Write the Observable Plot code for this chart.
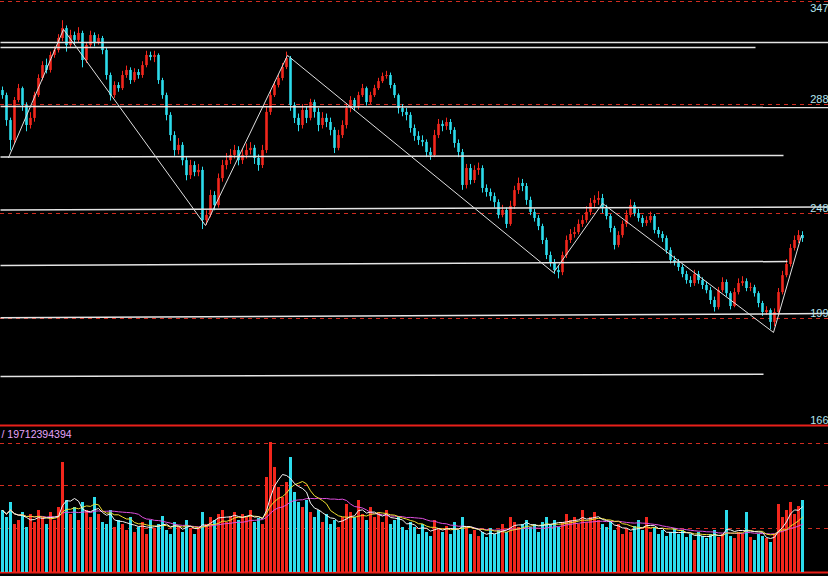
<!DOCTYPE html>
<html>
<head>
<meta charset="utf-8">
<script src="https://cdn.jsdelivr.net/npm/d3@7"></script>
<script src="https://cdn.jsdelivr.net/npm/@observablehq/plot@0.6"></script>
<style>
html,body{margin:0;padding:0;background:#000;overflow:hidden;}
#chart svg{display:block;}
</style>
</head>
<body>
<div id="chart"></div>
<script>
// ---- price axis levels (right-hand labels) ----
const levelValues = [166, 199, 248, 288, 347];
const levelLabels = ["166", "199", "248", "288", "347"];
const dashLevels = [199, 248, 288, 347];

// ---- candles (one per session) ----
const open = [296, 293.1, 282.1, 274.8, 290.3, 297.1, 287.6, 280.3, 282.9, 293.1,
302.9, 310.3, 307.5, 316.1, 318.9, 325.8, 331.5, 321.8, 327.5, 324.7,
328.7, 313.2, 321.8, 327.5, 323.5, 325.8, 318.9, 304.6, 293.1, 298.9,
297.1, 304.6, 307.5, 301.7, 306.3, 304.6, 310.3, 316.1, 314.9, 316.1,
301.7, 293.1, 284.0, 276.6, 271.1, 273.0, 267.4, 261.9, 265.6, 263.0,
263.8, 244.7, 247.1, 254.6, 250.9, 260.8, 265.6, 267.4, 269.3, 271.1,
267.4, 269.3, 271.1, 271.9, 268.2, 265.6, 271.1, 285.1, 293.1, 298.9,
302.9, 309.2, 314.3, 287.6, 282.9, 280.3, 285.8, 282.9, 289.1, 285.1,
280.3, 282.9, 281.4, 278.5, 271.9, 276.6, 280.3, 286.5, 290.3, 287.3,
293.1, 297.1, 289.1, 293.1, 297.1, 301.1, 304.0, 304.6, 298.9, 293.1,
286.5, 285.1, 284.0, 279.2, 276.3, 274.8, 274.1, 270.4, 269.3, 276.6,
280.7, 279.9, 281.4, 278.5, 273.7, 270.4, 258.3, 264.5, 260.1, 263.8,
264.5, 257.2, 255.7, 254.2, 252.0, 247.1, 249.1, 242.9, 250.6, 256.4,
259.0, 257.9, 252.8, 248.4, 245.7, 241.9, 235.4, 228.4, 225.1, 221.4,
220.4, 228.4, 235.4, 238.2, 239.1, 242.9, 244.7, 248.4, 251.7, 252.8,
253.5, 249.8, 246.6, 241.0, 233.1, 237.7, 242.9, 247.1, 250.9, 248.0,
245.7, 243.3, 244.7, 246.6, 240.1, 238.2, 236.3, 230.7, 226.1, 225.1,
222.8, 219.5, 216.7, 215.3, 219.5, 216.7, 214.4, 212.0, 207.4, 204.1,
212.0, 215.8, 210.6, 204.6, 211.1, 215.3, 216.2, 213.0, 213.4, 210.6,
206.0, 201.8, 202.7, 197.8, 201.8, 211.1, 219.0, 224.2, 231.7, 235.4,
237.7];
const high = [298, 294.5, 283, 292, 299.5, 298, 289, 285, 295, 305,
312.5, 314, 318, 321, 328, 336, 333, 330.5, 329.5, 332,
330, 323.5, 330, 329, 328, 327, 320, 306, 301, 300.5,
307, 310, 309, 308.5, 308, 312.5, 318.5, 318, 318.5, 317,
303, 294.5, 285, 278, 275.5, 274, 268.5, 267.5, 267, 266,
265, 249, 256.5, 256, 262.5, 267.5, 270, 271.5, 273, 272.5,
271.5, 273.5, 274, 273, 269.5, 273, 287, 295.5, 301, 305,
311.5, 318, 315.5, 289, 284.5, 288, 287, 291, 290.5, 286.5,
285, 284.5, 283, 279.5, 278.5, 282, 288.5, 292.5, 291.5, 295,
299.5, 298, 295, 299, 303, 306, 307, 306, 300, 294,
288, 286.5, 285, 280.5, 278, 276.5, 275, 272, 278.5, 282.5,
282, 283, 282.5, 279.5, 275, 271.5, 266, 266, 265.5, 266.5,
265.5, 258.5, 257, 255.5, 253, 251, 250, 252.5, 258, 261,
260.5, 259, 254, 249.5, 247, 243, 236.5, 230, 226.5, 223.5,
230, 237.5, 240.5, 241.5, 245, 247, 250.5, 253.5, 254.5, 256,
255, 251, 247.5, 242, 239.5, 244.5, 249, 253, 252, 249.5,
247, 246.5, 248.5, 247.5, 241.5, 239.5, 237.5, 232, 228, 226.5,
224, 221, 218.5, 221.5, 221, 218, 216, 213.5, 209, 213.5,
218, 217, 211.5, 213, 217.5, 218.5, 217.5, 215.5, 214.5, 211.5,
207, 204.5, 203.5, 203.5, 213, 221, 226.5, 233.5, 237.5, 240,
239.5];
const low = [291, 280, 271, 273.5, 289, 285.5, 278, 279, 281.5, 292,
301.5, 305.5, 306, 314.5, 317.5, 324, 318, 320, 322, 323,
309, 311.5, 320, 321, 322, 316.5, 302, 290, 291.5, 295,
296, 303, 299.5, 300.5, 302.5, 303, 309, 313, 312, 299.5,
291, 282, 274.5, 269, 269.5, 265.5, 260, 260.5, 261.5, 261.5,
240.5, 242.5, 246, 249, 250, 259.5, 264, 266, 268, 265.5,
266, 268, 269.5, 266, 263.5, 264.5, 270, 284, 292, 297.5,
301.5, 308, 285.5, 281, 278, 279, 281, 282, 283, 278,
279, 279.5, 276.5, 270, 271, 275.5, 279, 285, 285.5, 286,
292, 287.5, 288, 292, 296, 300, 302.5, 297, 291.5, 284.5,
283.5, 282, 277.5, 274.5, 273, 272.5, 268.5, 267.5, 268.5, 275.5,
278, 278.5, 277, 272, 268.5, 256.5, 257, 258.5, 259, 262,
255.5, 254, 252.5, 250, 245.5, 246, 241, 242, 249.5, 255,
256, 251, 247, 244, 240, 233.5, 226.5, 223, 219.5, 217.5,
219, 227, 234, 236.5, 238, 241.5, 243.5, 247, 250, 251,
248, 245, 239, 231, 232, 236.5, 241.5, 246, 246.5, 244,
241.5, 242, 243.5, 238.5, 236.5, 234.5, 229, 224.5, 223.5, 221,
218, 215, 213.5, 214, 215, 212.5, 210.5, 205.5, 202, 203,
211, 209, 203, 204, 210, 214, 211.5, 211.5, 209, 204,
200, 200.5, 195.5, 196.5, 200.5, 210, 218, 223, 230.5, 234,
234.5];
const close = [293.1, 282.1, 274.8, 290.3, 297.1, 287.6, 280.3, 282.9, 293.1, 302.9,
310.3, 307.5, 316.1, 318.9, 325.8, 331.5, 321.8, 327.5, 324.7, 328.7,
313.2, 321.8, 327.5, 323.5, 325.8, 318.9, 304.6, 293.1, 298.9, 297.1,
304.6, 307.5, 301.7, 306.3, 304.6, 310.3, 316.1, 314.9, 316.1, 301.7,
293.1, 284.0, 276.6, 271.1, 273.0, 267.4, 261.9, 265.6, 263.0, 263.8,
244.7, 247.1, 254.6, 250.9, 260.8, 265.6, 267.4, 269.3, 271.1, 267.4,
269.3, 271.1, 271.9, 268.2, 265.6, 271.1, 285.1, 293.1, 298.9, 302.9,
309.2, 314.3, 287.6, 282.9, 280.3, 285.8, 282.9, 289.1, 285.1, 280.3,
282.9, 281.4, 278.5, 271.9, 276.6, 280.3, 286.5, 290.3, 287.3, 293.1,
297.1, 289.1, 293.1, 297.1, 301.1, 304.0, 304.6, 298.9, 293.1, 286.5,
285.1, 284.0, 279.2, 276.3, 274.8, 274.1, 270.4, 269.3, 276.6, 280.7,
279.9, 281.4, 278.5, 273.7, 270.4, 258.3, 264.5, 260.1, 263.8, 264.5,
257.2, 255.7, 254.2, 252.0, 247.1, 249.1, 242.9, 250.6, 256.4, 259.0,
257.9, 252.8, 248.4, 245.7, 241.9, 235.4, 228.4, 225.1, 221.4, 220.4,
228.4, 235.4, 238.2, 239.1, 242.9, 244.7, 248.4, 251.7, 252.8, 253.5,
249.8, 246.6, 241.0, 233.1, 237.7, 242.9, 247.1, 250.9, 248.0, 245.7,
243.3, 244.7, 246.6, 240.1, 238.2, 236.3, 230.7, 226.1, 225.1, 222.8,
219.5, 216.7, 215.3, 219.5, 216.7, 214.4, 212.0, 207.4, 204.1, 212.0,
215.8, 210.6, 204.6, 211.1, 215.3, 216.2, 213.0, 213.4, 210.6, 206.0,
201.8, 202.7, 197.8, 201.8, 211.1, 219.0, 224.2, 231.7, 235.4, 237.7,
236.3];
const volume = [62, 55, 70, 48, 52, 60, 45, 58, 50, 62, 55, 48, 60, 52, 65,
110, 72, 58, 65, 52,
70, 62, 55, 75, 58, 50, 48, 62, 45, 52,
48, 42, 55, 40, 45, 50, 38, 52, 44, 48, 56, 42, 38, 50, 46, 40, 52, 44, 38, 45,
60, 48, 55, 52, 58, 62, 50, 56, 60, 52, 58, 55, 62, 50, 54, 48,
95, 130, 105, 85, 75, 90, 115,
80, 70, 65, 72, 60, 55, 62, 50, 58, 48, 52, 45, 55,
68, 60, 55, 72, 58, 52, 65, 55, 60, 50, 62, 48, 52, 56, 45,
42, 50, 45, 38, 48, 40, 36, 52, 44, 40, 46, 38, 50, 42, 55,
45, 38, 42, 36, 40, 35, 44, 38, 42, 48, 40, 55, 50, 45, 48,
52, 45, 48, 40, 50, 55, 48, 52, 45, 50, 58, 52, 55, 48, 62, 50, 55, 60, 52, 48,
45, 50, 42, 48, 38, 44, 40, 46, 52, 42, 55, 40, 45, 38, 42, 36, 40, 44, 38, 42,
35, 38, 32, 40, 36, 34, 38, 42, 35, 38, 62, 36, 34, 40, 38, 60, 35, 32, 38, 36,
34, 30, 38, 68, 55, 62, 70, 58, 66, 72];
const volDashLevels = [44, 87, 129];
const volumeText = "/ 19712394394";

// ---- drawn lines (session index, price) ----
const hlineStart = [-0.5, -0.5, -0.5, -0.5, -0.5, -0.5, -0.5, -0.5];
const hlineEnd   = [206.5, 188.25, 206.5, 195.25, 206.5, 196.25, 206.5, 190.25];
const hlineFrom  = [323.5, 320.6, 287.3, 268.7, 249.3, 223.7, 199.4, 181.1];
const hlineTo    = [323.5, 320.6, 286.9, 269.3, 250.4, 225.6, 201.3, 181.8];
const zigIndex = [1.5, 15.25, 50.75, 71.25, 137.75, 150, 192.75, 199.75];
const zigPrice = [268.5, 331.0, 242.4, 316.1, 220.4, 251.7, 194.7, 237.7];

// ---- build tables ----
const candles = close.map((c, i) => ({i, open: open[i], high: high[i], low: low[i], close: c, vol: volume[i]}));
const hlines = hlineStart.map((s, k) => ({x1: s, x2: hlineEnd[k], y1: hlineFrom[k], y2: hlineTo[k]}));
const zig = zigIndex.map((x, k) => ({x, y: zigPrice[k]}));
const levels = levelValues.map((v, k) => ({v, label: levelLabels[k]}));

const UP = "#f2261c", DOWN = "#2cdcec";
const col = d => d.close >= d.open ? UP : DOWN;
const xScale = {domain: [-0.5, 206.5], axis: null};
const font = "'Liberation Sans', Arial, sans-serif";

const price = Plot.plot({
  width: 828, height: 428, margin: 0,
  style: {background: "#000", fontFamily: font},
  x: xScale,
  y: {type: "linear", domain: levelValues, range: [425, 318, 213, 104, 1], axis: null},
  marks: [
    Plot.ruleY(dashLevels, {y: d => d, stroke: "#d02c20", strokeDasharray: "4,4", strokeWidth: 1, shapeRendering: "crispEdges"}),
    Plot.ruleY([166], {stroke: "#e8201a", strokeWidth: 2}),
    Plot.ruleX(candles, {x: "i", y1: "low", y2: "high", stroke: col, strokeWidth: 1}),
    Plot.ruleX(candles, {x: "i", y1: "open", y2: "close", stroke: col, strokeWidth: 2.6}),
    Plot.link(hlines, {x1: "x1", x2: "x2", y1: "y1", y2: "y2", stroke: "#e4e4e4", strokeWidth: 1.5}),
    Plot.line(zig, {x: "x", y: "y", stroke: "#e0e0e0", strokeWidth: 1}),
    Plot.text(levels.filter(d => d.v === 347), {y: "v", text: "label", frameAnchor: "right", textAnchor: "end", dy: 7, fill: "#b4e4ee", fontSize: 11}),
    Plot.text(levels.filter(d => d.v !== 347), {y: "v", text: "label", frameAnchor: "right", textAnchor: "end", dy: -5, fill: "#b4e4ee", fontSize: 11})
  ]
});

const vol = Plot.plot({
  width: 828, height: 148, margin: 0,
  style: {background: "#000", fontFamily: font},
  x: xScale,
  y: {domain: [0, 144], range: [144, 0], axis: null},
  marks: [
    Plot.ruleY(volDashLevels, {y: d => d, stroke: "#d02c20", strokeDasharray: "4,4", strokeWidth: 1, shapeRendering: "crispEdges"}),
    Plot.ruleY([0], {stroke: "#e8201a", strokeWidth: 2}),
    Plot.ruleX(candles, {x: "i", y1: 0, y2: "vol", stroke: col, strokeWidth: 3}),
    Plot.lineY(candles, Plot.windowY({k: 20, anchor: "end"}, {x: "i", y: "vol", stroke: "#e050e0", strokeWidth: 1})),
    Plot.lineY(candles, Plot.windowY({k: 10, anchor: "end"}, {x: "i", y: "vol", stroke: "#f0e030", strokeWidth: 1})),
    Plot.lineY(candles, Plot.windowY({k: 5, anchor: "end"}, {x: "i", y: "vol", stroke: "#f4f4f4", strokeWidth: 1})),
    Plot.text([volumeText], {frameAnchor: "top-left", textAnchor: "start", lineAnchor: "top", dx: 1, dy: 2, fill: "#e6a4fa", fontSize: 10.5})
  ]
});

const root = document.getElementById("chart");
root.appendChild(price);
root.appendChild(vol);
</script>
</body>
</html>
